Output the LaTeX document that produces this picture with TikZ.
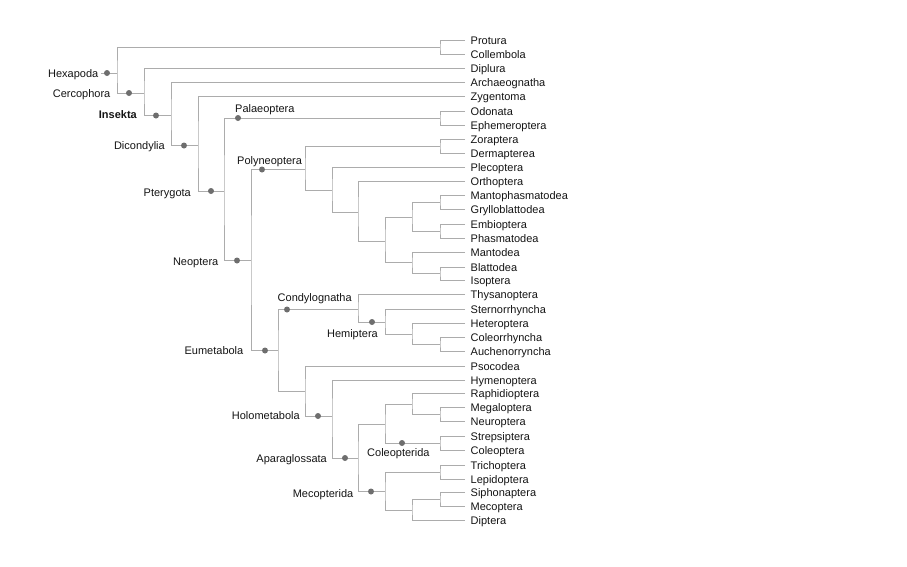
\documentclass[tikz,border=0pt]{standalone}
\usepackage{fontspec}
\setmainfont{Liberation Sans}
\definecolor{linegray}{RGB}{172,172,172}
\definecolor{dotgray}{RGB}{110,110,110}
\definecolor{txt}{RGB}{20,20,20}
\begin{document}
\begin{tikzpicture}[x=1pt,y=-1pt,
  branchline/.style={draw=linegray, line width=0.9pt},
  leafnode/.style={anchor=west, inner xsep=5.5pt, inner ysep=0pt, text height=8pt, text depth=0pt, font=\fontsize{11}{13}\selectfont, text=txt},
  cladelabel/.style={inner sep=0pt, text height=8pt, text depth=0pt, font=\fontsize{11}{13}\selectfont, text=txt},
  cladedot/.style={circle, fill=dotgray, inner sep=0pt, minimum size=6pt}]
\useasboundingbox (0,0) rectangle (907,566);
% leaves
\node[leafnode] (Protura) at (465,40) {Protura};
\node[leafnode] (Collembola) at (465,54) {Collembola};
\node[leafnode] (Diplura) at (465,68) {Diplura};
\node[leafnode] (Archaeognatha) at (465,82) {Archaeognatha};
\node[leafnode] (Zygentoma) at (465,96) {Zygentoma};
\node[leafnode] (Odonata) at (465,111) {Odonata};
\node[leafnode] (Ephemeroptera) at (465,125) {Ephemeroptera};
\node[leafnode] (Zoraptera) at (465,139) {Zoraptera};
\node[leafnode] (Dermapterea) at (465,153) {Dermapterea};
\node[leafnode] (Plecoptera) at (465,167) {Plecoptera};
\node[leafnode] (Orthoptera) at (465,181) {Orthoptera};
\node[leafnode] (Mantophasmatodea) at (465,195) {Mantophasmatodea};
\node[leafnode] (Grylloblattodea) at (465,209) {Grylloblattodea};
\node[leafnode] (Embioptera) at (465,224) {Embioptera};
\node[leafnode] (Phasmatodea) at (465,238) {Phasmatodea};
\node[leafnode] (Mantodea) at (465,252) {Mantodea};
\node[leafnode] (Blattodea) at (465,267) {Blattodea};
\node[leafnode] (Isoptera) at (465,280) {Isoptera};
\node[leafnode] (Thysanoptera) at (465,294) {Thysanoptera};
\node[leafnode] (Sternorrhyncha) at (465,309) {Sternorrhyncha};
\node[leafnode] (Heteroptera) at (465,323) {Heteroptera};
\node[leafnode] (Coleorrhyncha) at (465,337) {Coleorrhyncha};
\node[leafnode] (Auchenorryncha) at (465,351) {Auchenorryncha};
\node[leafnode] (Psocodea) at (465,366) {Psocodea};
\node[leafnode] (Hymenoptera) at (465,380) {Hymenoptera};
\node[leafnode] (Raphidioptera) at (465,393) {Raphidioptera};
\node[leafnode] (Megaloptera) at (465,407) {Megaloptera};
\node[leafnode] (Neuroptera) at (465,421) {Neuroptera};
\node[leafnode] (Strepsiptera) at (465,436) {Strepsiptera};
\node[leafnode] (Coleoptera) at (465,450) {Coleoptera};
\node[leafnode] (Trichoptera) at (465,465) {Trichoptera};
\node[leafnode] (Lepidoptera) at (465,479) {Lepidoptera};
\node[leafnode] (Siphonaptera) at (465,492) {Siphonaptera};
\node[leafnode] (Mecoptera) at (465,506) {Mecoptera};
\node[leafnode] (Diptera) at (465,520) {Diptera};
% internal nodes
\coordinate (nPC) at (440,47);
\coordinate (nOE) at (440,118);
\coordinate (nZD) at (440,146);
\coordinate (nMG) at (440,202);
\coordinate (nEP) at (440,231);
\coordinate (nBI) at (440,273.5);
\coordinate (nCA) at (440,344);
\coordinate (nMN) at (440,414);
\coordinate (nCol) at (440,443);
\coordinate (nTL) at (440,472);
\coordinate (nSM) at (440,499);
\coordinate (nP5) at (412,262.5);
\coordinate (nP4) at (412,217);
\coordinate (nP3) at (385,241);
\coordinate (nP2) at (358,212);
\coordinate (nP1) at (332,190);
\coordinate (nPoly) at (305,169.5);
\coordinate (nH2) at (412,334);
\coordinate (nHem) at (385,322);
\coordinate (nCond) at (358,309.5);
\coordinate (nNeur) at (412,404);
\coordinate (nY) at (385,424);
\coordinate (nM2) at (412,510);
\coordinate (nMeco) at (385,491.5);
\coordinate (nApa) at (358,458);
\coordinate (nHolo) at (332,416);
\coordinate (nX) at (305,391);
\coordinate (nEum) at (278,350.5);
\coordinate (nNeo) at (251,260.5);
\coordinate (nPte) at (224,191);
\coordinate (nDic) at (198,145.5);
\coordinate (nIns) at (171,115.5);
\coordinate (nCerc) at (144,93);
\coordinate (nHex) at (117,73);
\coordinate (hexstem) at (101,73);
% branches
\draw[branchline] (hexstem) -- (nHex);
\draw[branchline] (nPC) -| (nHex) |- (nCerc);
\draw[branchline] (Protura.west) -| (nPC) |- (Collembola.west);
\draw[branchline] (Diplura.west) -| (nCerc) |- (nIns);
\draw[branchline] (Archaeognatha.west) -| (nIns) |- (nDic);
\draw[branchline] (Zygentoma.west) -| (nDic) |- (nPte);
\draw[branchline] (nOE) -| (nPte) |- (nNeo);
\draw[branchline] (Odonata.west) -| (nOE) |- (Ephemeroptera.west);
\draw[branchline] (nPoly) -| (nNeo) |- (nEum);
\draw[branchline] (nZD) -| (nPoly) |- (nP1);
\draw[branchline] (Zoraptera.west) -| (nZD) |- (Dermapterea.west);
\draw[branchline] (Plecoptera.west) -| (nP1) |- (nP2);
\draw[branchline] (Orthoptera.west) -| (nP2) |- (nP3);
\draw[branchline] (nP4) -| (nP3) |- (nP5);
\draw[branchline] (nMG) -| (nP4) |- (nEP);
\draw[branchline] (Mantophasmatodea.west) -| (nMG) |- (Grylloblattodea.west);
\draw[branchline] (Embioptera.west) -| (nEP) |- (Phasmatodea.west);
\draw[branchline] (Mantodea.west) -| (nP5) |- (nBI);
\draw[branchline] (Blattodea.west) -| (nBI) |- (Isoptera.west);
\draw[branchline] (nCond) -| (nEum) |- (nX);
\draw[branchline] (Thysanoptera.west) -| (nCond) |- (nHem);
\draw[branchline] (Sternorrhyncha.west) -| (nHem) |- (nH2);
\draw[branchline] (Heteroptera.west) -| (nH2) |- (nCA);
\draw[branchline] (Coleorrhyncha.west) -| (nCA) |- (Auchenorryncha.west);
\draw[branchline] (Psocodea.west) -| (nX) |- (nHolo);
\draw[branchline] (Hymenoptera.west) -| (nHolo) |- (nApa);
\draw[branchline] (nY) -| (nApa) |- (nMeco);
\draw[branchline] (nNeur) -| (nY) |- (nCol);
\draw[branchline] (Raphidioptera.west) -| (nNeur) |- (nMN);
\draw[branchline] (Megaloptera.west) -| (nMN) |- (Neuroptera.west);
\draw[branchline] (Strepsiptera.west) -| (nCol) |- (Coleoptera.west);
\draw[branchline] (nTL) -| (nMeco) |- (nM2);
\draw[branchline] (Trichoptera.west) -| (nTL) |- (Lepidoptera.west);
\draw[branchline] (nSM) -| (nM2) |- (Diptera.west);
\draw[branchline] (Siphonaptera.west) -| (nSM) |- (Mecoptera.west);
% dots
\node[cladedot] (dHex) at (107,73) {};
\node[cladedot] (dCerc) at (129,93) {};
\node[cladedot] (dIns) at (156,115.5) {};
\node[cladedot] (dDic) at (184,145.5) {};
\node[cladedot] (dPte) at (211,191) {};
\node[cladedot] (dPal) at (238,118) {};
\node[cladedot] (dNeo) at (237,260.5) {};
\node[cladedot] (dPoly) at (262,169.5) {};
\node[cladedot] (dEum) at (265,350.5) {};
\node[cladedot] (dCond) at (287,309.5) {};
\node[cladedot] (dHem) at (372,322) {};
\node[cladedot] (dHolo) at (318,416) {};
\node[cladedot] (dApa) at (345,458) {};
\node[cladedot] (dCol) at (402,443) {};
\node[cladedot] (dMeco) at (371,491.5) {};
% clade labels
\node[cladelabel, anchor=east] (lHex) at (98.5,73) {Hexapoda};
\node[cladelabel, anchor=east] (lCerc) at (110.5,93) {Cercophora};
\node[cladelabel, anchor=east, font=\fontsize{11}{13}\selectfont\bfseries] (lIns) at (137,114.5) {Insekta};
\node[cladelabel, anchor=east] (lDic) at (165,145.5) {Dicondylia};
\node[cladelabel, anchor=east] (lPte) at (191,192) {Pterygota};
\node[cladelabel, anchor=west] (lPal) at (235,108.5) {Palaeoptera};
\node[cladelabel, anchor=west] (lPoly) at (237,160) {Polyneoptera};
\node[cladelabel, anchor=east] (lNeo) at (218.5,261) {Neoptera};
\node[cladelabel, anchor=east] (lEum) at (243.5,350) {Eumetabola};
\node[cladelabel, anchor=west] (lCond) at (277.5,297) {Condylognatha};
\node[cladelabel, anchor=east] (lHem) at (378,333) {Hemiptera};
\node[cladelabel, anchor=east] (lHolo) at (300,415) {Holometabola};
\node[cladelabel, anchor=east] (lApa) at (327,458) {Aparaglossata};
\node[cladelabel, anchor=west] (lCol) at (367,452) {Coleopterida};
\node[cladelabel, anchor=east] (lMeco) at (353.5,493) {Mecopterida};
\end{tikzpicture}
\end{document}
